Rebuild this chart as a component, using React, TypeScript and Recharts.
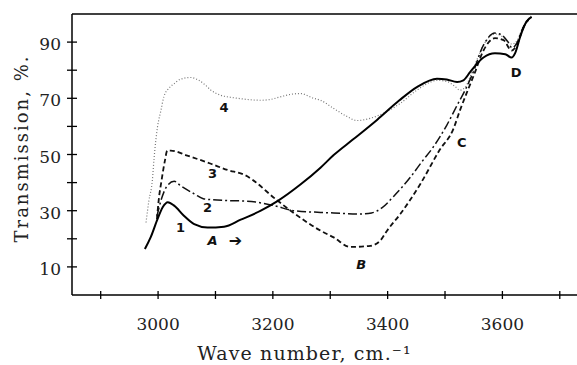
import { LineChart, Line, XAxis, YAxis, ReferenceLine, ReferenceDot, Label } from 'recharts'

// wave numbers (cm-1) and transmission (%), one pair of arrays per curve
const wave1 = [2977, 2987, 2999, 3008, 3017, 3028, 3045, 3063, 3086, 3115, 3144, 3179, 3208, 3248, 3283, 3306, 3340, 3382, 3420, 3451, 3486, 3503, 3521, 3532, 3544, 3567, 3587, 3605, 3616, 3622, 3631, 3642, 3651]
const trans1 = [16.4, 20.5, 27, 31.2, 33, 31.8, 28.2, 25.2, 24, 24.3, 26.8, 30, 33.4, 39.3, 45.3, 49.8, 55.4, 62.4, 69.2, 74, 77, 76.7, 75.8, 76.4, 79.4, 84.5, 86, 85.7, 84.5, 86, 91.9, 97.3, 99]

const wave2 = [2998, 3005, 3016, 3028, 3039, 3063, 3080, 3121, 3155, 3202, 3237, 3283, 3306, 3350, 3372, 3390, 3410, 3440, 3460, 3480, 3503, 3521, 3535, 3547, 3567, 3587, 3599, 3610, 3617, 3626, 3635, 3650]
const trans2 = [28, 33.6, 38.9, 40.5, 38.9, 36, 34.2, 33.6, 33.4, 31.8, 30, 29.4, 29.2, 28.8, 29.2, 31, 35, 42, 47.5, 52.8, 60.4, 67.5, 72.9, 78.2, 88.9, 93.2, 92.5, 90, 87.9, 90, 94.6, 98.9]

const wave3 = [2998, 3001, 3006, 3012, 3016, 3022, 3051, 3092, 3121, 3150, 3208, 3231, 3283, 3306, 3335, 3370, 3387, 3399, 3422, 3457, 3490, 3515, 3526, 3538, 3551, 3567, 3587, 3602, 3616, 3626, 3636, 3650]
const trans3 = [27, 33.6, 40.7, 47.9, 51.4, 51.4, 49.6, 46.7, 44.5, 42.8, 33.6, 30, 22.9, 20.5, 17.1, 17.5, 19.3, 22.9, 28.8, 39.5, 51.4, 59.3, 65.7, 72, 78.6, 87, 91.4, 90.7, 87, 89.3, 95, 99]

const wave4 = [2979, 2984, 2990, 2993, 2999, 3005, 3010, 3019, 3028, 3039, 3057, 3071, 3083, 3092, 3109, 3132, 3155, 3179, 3196, 3213, 3231, 3248, 3271, 3283, 3306, 3326, 3347, 3370, 3396, 3422, 3451, 3474, 3486, 3503, 3517, 3526, 3535, 3547, 3567, 3587, 3599, 3610, 3617, 3626, 3635, 3650]
const trans4 = [25.8, 33.6, 40.7, 48.6, 59.8, 65.7, 70.5, 73.6, 75.2, 76.8, 77.4, 76.4, 74.6, 72.9, 71.1, 70.2, 69.6, 69.3, 69.6, 70.5, 71.4, 71.7, 70, 69.3, 66.4, 63.9, 62.1, 62.9, 65, 68.2, 72.9, 75.7, 76.4, 76, 74.3, 72.9, 73.9, 79.3, 88.9, 92.9, 92.1, 90, 89.3, 90.7, 95, 99.3]

const xTicks = [2900, 3000, 3100, 3200, 3300, 3400, 3500, 3600, 3700]
const xLabels = [3000, 3200, 3400, 3600]
const yTicks = [10, 20, 30, 40, 50, 60, 70, 80, 90]
const yLabels = [10, 30, 50, 70, 90]

// curve labels: [text, wave number, transmission]
const notes: [string, number, number][] = [
  ['1', 3039, 24],
  ['2', 3086, 31.2],
  ['3', 3095, 43.3],
  ['4', 3115, 66.9],
  ['A', 3095, 19.3],
  ['\u2794', 3135, 19.5],
  ['B', 3354, 11],
  ['C', 3529, 54.4],
  ['D', 3624, 79.4],
]

const pairs = (xs: number[], ys: number[]) => xs.map((x, i) => ({ x, y: ys[i] }))

const serif = 'DejaVu Serif'

const XTick = ({ x, y, payload }: any) => (
  <g>
    <line x1={x} x2={x} y1={y - 4} y2={y + 4} stroke="#000" strokeWidth={1.3} />
    {xLabels.includes(payload.value) && (
      <text x={x} y={y + 35} textAnchor="middle" fontFamily={serif} fontSize={17} fill="#222">
        {payload.value}
      </text>
    )}
  </g>
)

const YTick = ({ x, y, payload }: any) => (
  <g>
    <line x1={x - 5} x2={x + 5} y1={y} y2={y} stroke="#000" strokeWidth={1.3} />
    {yLabels.includes(payload.value) && (
      <text x={x - 11} y={y + 8} textAnchor="end" fontFamily={serif} fontSize={17} fill="#222">
        {payload.value}
      </text>
    )}
  </g>
)

const YTitle = ({ viewBox }: any) => {
  const cx = viewBox.x + 21
  const cy = viewBox.y + viewBox.height / 2 - 6
  return (
    <text x={cx} y={cy} transform={`rotate(-90, ${cx}, ${cy})`} textAnchor="middle" dominantBaseline="central"
      fontFamily={serif} fontSize={18} fill="#222" letterSpacing={2}>
      Transmission, %.
    </text>
  )
}

export default function App() {
  return (
    <div style={{ position: 'absolute', left: 0, top: 0, width: 577, height: 365, background: '#fff' }}>
      <LineChart width={577} height={365} margin={{ top: 14, right: 0, bottom: 0, left: 0 }}>
        <XAxis dataKey="x" type="number" domain={[2850, 3730]} ticks={xTicks} allowDataOverflow
          height={70} tickSize={0} tickMargin={0} tickLine={false} tick={<XTick />}
          axisLine={{ stroke: '#000', strokeWidth: 1.5 }}>
          <Label value={'Wave number, cm.\u207B\u00B9'} position="insideBottom" offset={5} dx={-20}
            style={{ fontFamily: serif, fontSize: 19, fill: '#222', letterSpacing: 1.1 }} />
        </XAxis>
        <YAxis dataKey="y" type="number" domain={[0, 100]} ticks={yTicks} allowDataOverflow
          width={72} tickSize={0} tickMargin={0} tickLine={false} tick={<YTick />}
          axisLine={{ stroke: '#000', strokeWidth: 1.5 }}>
          <Label content={<YTitle />} />
        </YAxis>
        <ReferenceLine y={100} stroke="#000" strokeWidth={1.5} />

        <Line data={pairs(wave4, trans4)} dataKey="y" type="monotone" stroke="#777" strokeWidth={1.2}
          strokeDasharray="1 2" dot={false} isAnimationActive={false} />
        <Line data={pairs(wave2, trans2)} dataKey="y" type="monotone" stroke="#111" strokeWidth={1.5}
          strokeDasharray="9 3 2 3" dot={false} isAnimationActive={false} />
        <Line data={pairs(wave3, trans3)} dataKey="y" type="monotone" stroke="#111" strokeWidth={1.8}
          strokeDasharray="5 3" dot={false} isAnimationActive={false} />
        <Line data={pairs(wave1, trans1)} dataKey="y" type="monotone" stroke="#000" strokeWidth={2}
          dot={false} isAnimationActive={false} />

        {notes.map(([t, x, y]) => (
          <ReferenceDot key={t} x={x} y={y} r={0} fill="none" stroke="none"
            label={{ value: t, position: 'center', fontSize: t === '\u2794' ? 16 : 13, fontWeight: 'bold',
              fontStyle: t === 'A' || t === 'B' ? 'italic' : 'normal', fill: '#111', fontFamily: 'DejaVu Sans' }} />
        ))}
      </LineChart>
    </div>
  )
}
